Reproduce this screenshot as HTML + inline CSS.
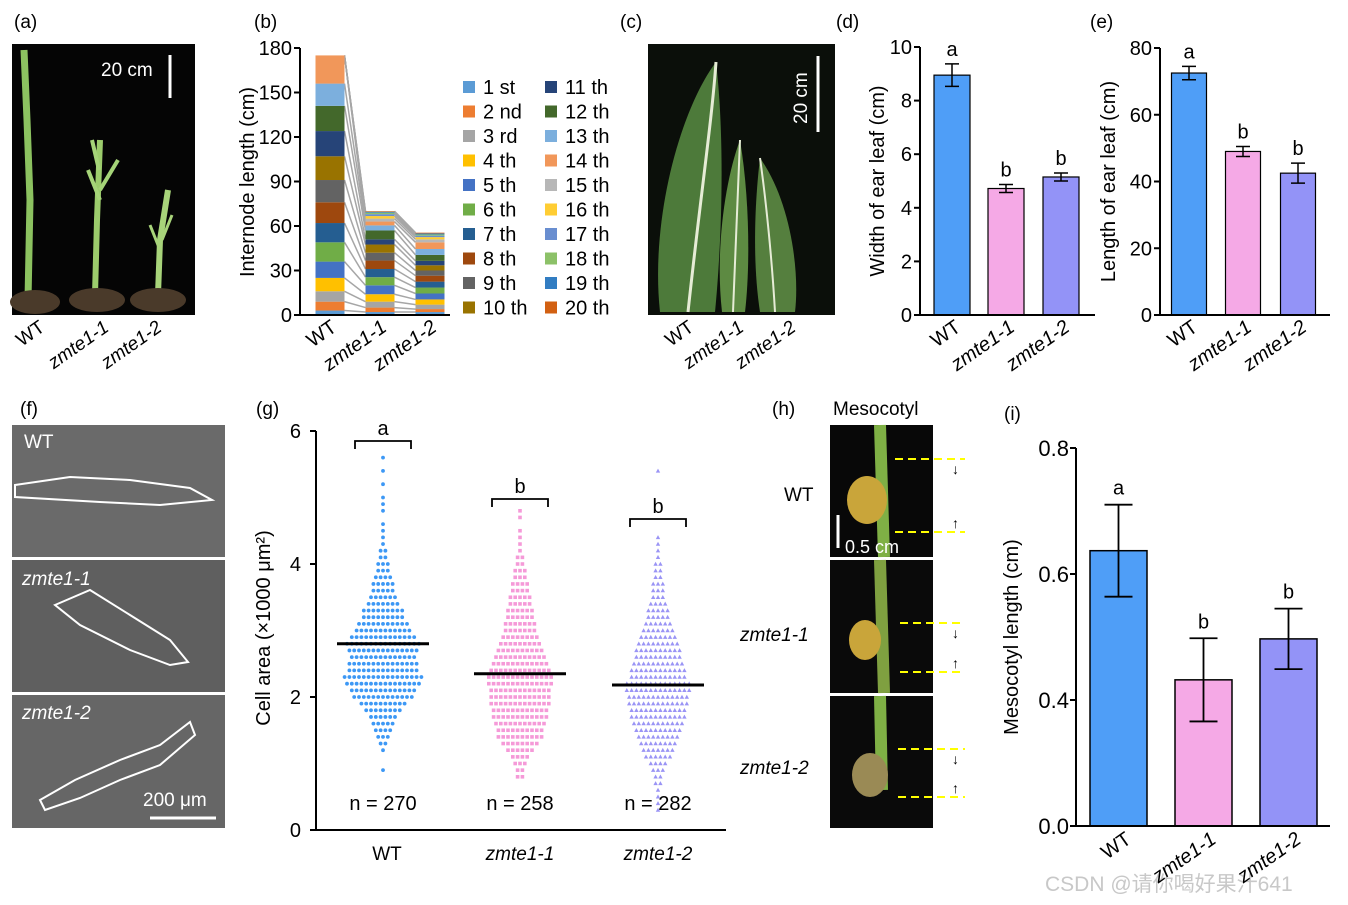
<!DOCTYPE html>
<html><head><meta charset="utf-8"><style>
body{margin:0;background:#fff}
svg{display:block;font-family:"Liberation Sans","Noto Sans CJK SC",sans-serif}
</style></head><body>
<svg id="fig" width="1348" height="905" viewBox="0 0 1348 905" xmlns="http://www.w3.org/2000/svg">
<g font-size="19" fill="#000">
<text x="14" y="28">(a)</text>
<text x="254" y="28">(b)</text>
<text x="620" y="28">(c)</text>
<text x="836" y="28">(d)</text>
<text x="1090" y="28">(e)</text>
<text x="20" y="415">(f)</text>
<text x="256" y="415">(g)</text>
<text x="772" y="415">(h)</text>
<text x="1004" y="420">(i)</text>
</g>
<!-- (a) photo -->
<g>
<rect x="12" y="44" width="183" height="271" fill="#050505"/>
<path d="M28 300 L30 200 L27 120 L24 50" stroke="#8cc260" stroke-width="7" fill="none"/>
<path d="M95 295 L97 220 L100 140" stroke="#9ccc6c" stroke-width="6" fill="none"/>
<path d="M100 200 L88 170 M100 190 L118 160 M99 170 L92 140" stroke="#a5d478" stroke-width="4" fill="none"/>
<path d="M158 295 L160 240 L168 190" stroke="#a8d47a" stroke-width="6" fill="none"/>
<path d="M160 250 L150 225 M162 240 L172 215" stroke="#a8d47a" stroke-width="3" fill="none"/>
<ellipse cx="35" cy="302" rx="25" ry="12" fill="#4a3a2a"/>
<ellipse cx="97" cy="300" rx="28" ry="12" fill="#4a3a2a"/>
<ellipse cx="158" cy="300" rx="28" ry="12" fill="#4a3a2a"/>
<line x1="170" y1="55" x2="170" y2="98" stroke="#fff" stroke-width="3"/>
<text x="101" y="76" fill="#fff" font-size="19">20 cm</text>
</g>
<g font-size="19">
<text transform="translate(46,330) rotate(-35)" text-anchor="end">WT</text>
<text transform="translate(110,330) rotate(-35)" text-anchor="end" font-style="italic">zmte1-1</text>
<text transform="translate(163,330) rotate(-35)" text-anchor="end" font-style="italic">zmte1-2</text>
</g>
<!-- (c) photo -->
<g>
<rect x="648" y="44" width="187" height="271" fill="#0b0f0a"/>
<path d="M660 312 C650 220 680 110 716 62 C725 140 722 240 715 312 Z" fill="#4d7a3a"/>
<path d="M688 312 C700 200 712 120 716 62" stroke="#e6ecd6" stroke-width="3" fill="none"/>
<path d="M722 312 C715 250 725 180 740 140 C750 200 750 270 745 312 Z" fill="#5d8a42"/>
<path d="M733 312 C735 250 738 190 740 140" stroke="#e6ecd6" stroke-width="2" fill="none"/>
<path d="M760 312 C752 260 755 200 760 158 C790 200 800 270 795 312 Z" fill="#557f3e"/>
<path d="M775 312 C772 260 766 200 760 158" stroke="#e6ecd6" stroke-width="2" fill="none"/>
<line x1="818" y1="56" x2="818" y2="132" stroke="#fff" stroke-width="3"/>
<text transform="translate(807,124) rotate(-90)" fill="#fff" font-size="19">20 cm</text>
</g>
<g font-size="19">
<text transform="translate(695,330) rotate(-35)" text-anchor="end">WT</text>
<text transform="translate(745,330) rotate(-35)" text-anchor="end" font-style="italic">zmte1-1</text>
<text transform="translate(797,330) rotate(-35)" text-anchor="end" font-style="italic">zmte1-2</text>
</g>
<!-- (f) photos -->
<g>
<rect x="12" y="425" width="213" height="132" fill="#6a6a6a"/>
<rect x="12" y="560" width="213" height="132" fill="#5f5f5f"/>
<rect x="12" y="695" width="213" height="133" fill="#666"/>
<path d="M15 485 L70 477 L130 480 L190 488 L212 500 L160 505 L100 502 L15 497 Z" fill="none" stroke="#fff" stroke-width="2"/>
<path d="M55 605 L90 590 L130 615 L170 640 L188 662 L170 665 L130 650 L80 625 Z" fill="none" stroke="#fff" stroke-width="2"/>
<path d="M40 800 L75 780 L120 760 L160 745 L190 722 L195 735 L160 765 L120 780 L80 798 L45 810 Z" fill="none" stroke="#fff" stroke-width="2"/>
<text x="24" y="448" fill="#fff" font-size="19">WT</text>
<text x="22" y="585" fill="#fff" font-size="19" font-style="italic">zmte1-1</text>
<text x="22" y="719" fill="#fff" font-size="19" font-style="italic">zmte1-2</text>
<text x="143" y="806" fill="#fff" font-size="19">200 μm</text>
<line x1="150" y1="818" x2="216" y2="818" stroke="#fff" stroke-width="3"/>
</g>
<!-- (h) photos -->
<g>
<text x="833" y="415" font-size="19">Mesocotyl</text>
<rect x="830" y="425" width="103" height="132" fill="#080808"/>
<rect x="830" y="560" width="103" height="133" fill="#0a0a0a"/>
<rect x="830" y="696" width="103" height="132" fill="#0a0a0a"/>
<path d="M880 425 L884 557" stroke="#7fb045" stroke-width="12"/>
<ellipse cx="867" cy="500" rx="20" ry="24" fill="#c9a53a"/>
<path d="M880 560 L884 693" stroke="#7fa040" stroke-width="12"/>
<ellipse cx="865" cy="640" rx="16" ry="20" fill="#c9a53a"/>
<path d="M880 696 L882 790" stroke="#7fb045" stroke-width="12"/>
<ellipse cx="870" cy="775" rx="18" ry="22" fill="#9a8a55"/>
<g stroke="#ffff00" stroke-width="2" stroke-dasharray="8,5">
<line x1="895" y1="459" x2="965" y2="459"/><line x1="895" y1="532" x2="965" y2="532"/>
<line x1="900" y1="623" x2="965" y2="623"/><line x1="900" y1="672" x2="965" y2="672"/>
<line x1="898" y1="749" x2="965" y2="749"/><line x1="898" y1="797" x2="965" y2="797"/>
</g>
<g font-size="14"><text x="952" y="474">↓</text><text x="952" y="528">↑</text><text x="952" y="638">↓</text><text x="952" y="668">↑</text><text x="952" y="764">↓</text><text x="952" y="793">↑</text></g>
<line x1="838" y1="515" x2="838" y2="548" stroke="#fff" stroke-width="3"/>
<text x="845" y="553" fill="#fff" font-size="18">0.5 cm</text>
<text x="784" y="501" font-size="19">WT</text>
<text x="740" y="641" font-size="19" font-style="italic">zmte1-1</text>
<text x="740" y="774" font-size="19" font-style="italic">zmte1-2</text>
</g>
<text x="1045" y="891" font-size="21" fill="#c8c8c8">CSDN @请你喝好果汁641</text>
<g id="charts"></g>
</svg>
<script>
// ---- (b) stacked internodes ----
const bCats = ["WT","zmte1-1","zmte1-2"];
const bWT = [3,6,7,9,11,13,13,14,15,16,17,17,15,19,0,0,0,0,0,0];
const bZ1 = [2,3,4,5,6,5.5,5.5,5.7,5.3,5.5,3.5,6,3.4,2.6,2,1.7,1.3,1,0.6,0.4];
const bZ2 = [2,2,3,3.5,4,4,4,4,3.5,3.5,3,4,4,4.5,2,1.5,1,0.8,0.7,0.5];
const bTicks = [0,30,60,90,120,150,180];
const legendLabels = ["1 st","2 nd","3 rd","4 th","5 th","6 th","7 th","8 th","9 th","10 th","11 th","12 th","13 th","14 th","15 th","16 th","17 th","18 th","19 th","20 th"];
const segColors = ["#5b9bd5","#ed7d31","#a5a5a5","#ffc000","#4472c4","#70ad47","#255e91","#9e480e","#636363","#997300","#264478","#43682b","#7cafdd","#f1975a","#b7b7b7","#ffcd33","#698ed0","#8cc168","#327dc2","#d26012"];
// ---- (d),(e) ----
const dCats = ["WT","zmte1-1","zmte1-2"];
const dVals = [8.95,4.72,5.15];
const dErr = [0.42,0.15,0.15];
const dLetters = ["a","b","b"];
const dTicks = [0,2,4,6,8,10];
const eVals = [72.5,49,42.5];
const eErr = [2,1.5,3];
const eLetters = ["a","b","b"];
const eTicks = [0,20,40,60,80];
// ---- (g) swarm: counts per 0.1 bin ----
const gCats = ["WT","zmte1-1","zmte1-2"];
const gBinStart = [0.9,0.8,0.3];
const gWT = [1,0,0,1,2,3,4,5,6,8,10,13,14,16,17,15,15,14,15,16,14,12,11,9,9,7,6,5,5,4,3,3,2,2,1,1,1,1,0,1,1,1,0,1,0,1,0,1];
const gZ1 = [2,2,3,4,6,8,10,10,11,12,12,13,13,13,14,14,13,12,11,10,9,8,7,7,6,6,5,5,4,4,3,3,2,2,1,1,1,1,0,1,1];
const gZ2 = [1,1,1,1,2,2,3,4,6,7,8,9,10,11,12,12,13,13,14,14,12,12,11,10,10,9,8,7,6,5,5,4,3,3,3,2,2,2,1,1,1,1,0,0,0,0,0,0,0,0,0,1];
const gMedians = [2.8,2.35,2.18];
const gN = ["n = 270","n = 258","n = 282"];
const gLetters = ["a","b","b"];
const gTicks = [0,2,4,6];
// ---- (i) ----
const iVals = [0.637,0.432,0.497];
const iErr = [0.073,0.066,0.048];
const iLetters = ["a","b","b"];
const iTickVals = [0.8,0.6,0.4,0.2];
const iTickLabels = ["0.8","0.6","0.4","0.0"];

const NS="http://www.w3.org/2000/svg";
const root=document.getElementById('charts');
function mk(tag,attrs,parent){const e=document.createElementNS(NS,tag);for(const k in attrs)e.setAttribute(k,attrs[k]);(parent||root).appendChild(e);return e;}
function txt(s,attrs,parent){const e=mk('text',attrs,parent);e.textContent=s;return e;}

// ===== (b) =====
(function(){
 const g=mk('g',{});
 
 
 const y=v=>315-v*(267/180);
 const xc=[330,380,430], bw=29;
 const series=[bWT,bZ1,bZ2];
 const cum=series.map(s=>{let c=0;return s.map(v=>c+=v);});
 for(let i=0;i<2;i++){for(let k=0;k<20;k++){
   const l=mk('line',{x1:xc[i]+bw/2,y1:y(cum[i][k]),x2:xc[i+1]-bw/2,y2:y(cum[i+1][k]),stroke:'#a6a6a6','stroke-width':1.5},g);
   
   
 }}
 series.forEach((s,i)=>{let base=0;s.forEach((v,k)=>{ if(v>0){
   const r=mk('rect',{x:xc[i]-bw/2,y:y(base+v),width:bw,height:y(base)-y(base+v),fill:segColors[k]},g);
   
   }
   base+=v;});});
 const ax=mk('path',{d:'M300 48 V315 H450',stroke:'#000','stroke-width':2,fill:'none'},g);
 
 
 bTicks.forEach(t=>{mk('line',{x1:294,x2:300,y1:y(t),y2:y(t),stroke:'#000','stroke-width':2},g);
   const tl=txt(String(t),{x:292,y:y(t)+7,'text-anchor':'end','font-size':20},g);
   
   });
 const tt=txt('Internode length (cm)',{transform:'translate(254,182) rotate(-90)','text-anchor':'middle','font-size':20},g);
 
 
 bCats.forEach((c,i)=>{const t=txt(c,{transform:`translate(${xc[i]+8},330) rotate(-35)`,'text-anchor':'end','font-size':20,'font-style':i?'italic':'normal'},g);
   
   });
 legendLabels.forEach((lab,k)=>{const col=Math.floor(k/10),row=k%10;
   const lx=463+col*82, ly=81+row*24.5;
   const le=mk('g',{},g);
   
   
   mk('rect',{x:lx,y:ly,width:12,height:12,fill:segColors[k]},le);
   txt(lab,{x:lx+20,y:ly+13,'font-size':20},le);});
})();

// ===== generic bar chart =====
function barChart(name,x0,x1,yTop,yBot,ymax,ticks,vals,errs,letters,xs,bw,title,titleX,cols){
 const g=mk('g',{});
 
 
 const y=v=>yBot-v*(yBot-yTop)/ymax;
 vals.forEach((v,i)=>{
  const r=mk('rect',{x:xs[i]-bw/2,y:y(v),width:bw,height:yBot-y(v),fill:cols[i],stroke:'#000','stroke-width':1.2},g);
  
  
  const eb=mk('path',{d:`M${xs[i]} ${y(v+errs[i])} V${y(v-errs[i])} M${xs[i]-7} ${y(v+errs[i])} H${xs[i]+7} M${xs[i]-7} ${y(v-errs[i])} H${xs[i]+7}`,stroke:'#000','stroke-width':1.5,fill:'none'},g);
  
  
  const lt=txt(letters[i],{x:xs[i],y:y(v+errs[i])-8,'text-anchor':'middle','font-size':20},g);
  
  
  const xl=txt(dCats[i],{transform:`translate(${xs[i]+10},330) rotate(-35)`,'text-anchor':'end','font-size':20,'font-style':i?'italic':'normal'},g);
  
  
 });
 const ax=mk('path',{d:`M${x0} ${yTop} V${yBot} H${x1}`,stroke:'#000','stroke-width':2,fill:'none'},g);
 
 
 ticks.forEach(t=>{mk('line',{x1:x0-6,x2:x0,y1:y(t),y2:y(t),stroke:'#000','stroke-width':2},g);
  const tl=txt(String(t),{x:x0-8,y:y(t)+7,'text-anchor':'end','font-size':20},g);
  
  });
 const tt=txt(title,{transform:`translate(${titleX},${(yTop+yBot)/2}) rotate(-90)`,'text-anchor':'middle','font-size':20},g);
 
 
}
const barCols=['#4f9ef7','#f5a9e6','#9393f7'];
barChart('width-chart',920,1095,47,315,10,dTicks,dVals,dErr,dLetters,[952,1006,1061],36,'Width of ear leaf (cm)',884,barCols);
barChart('length-chart',1160,1330,48,315,80,eTicks,eVals,eErr,eLetters,[1189,1243,1298],35,'Length of ear leaf (cm)',1115,barCols);

// ===== (g) swarm =====
(function(){
 const g=mk('g',{});
 
 
 const y=v=>830-v*(399/6);
 const xc=[383,520,658];
 const cols=['#3d98f5','#f59ad8','#9a94f5'];
 [gWT,gZ1,gZ2].forEach((bins,i)=>{
  bins.forEach((n,b)=>{const v=gBinStart[i]+b*0.1;
   for(let j=0;j<n;j++){const dx=(j-(n-1)/2)*4.8;
    let d;
    if(i===0) d=mk('circle',{cx:xc[i]+dx,cy:y(v),r:1.9,fill:cols[i]},g);
    else if(i===1) d=mk('rect',{x:xc[i]+dx-1.8,y:y(v)-1.8,width:3.6,height:3.6,fill:cols[i]},g);
    else {const cx=xc[i]+dx,cy=y(v);d=mk('path',{d:`M${cx} ${cy-2.3} L${cx+2.2} ${cy+1.7} L${cx-2.2} ${cy+1.7}Z`,fill:cols[i]},g);}
    
    
   }});
  const m=mk('line',{x1:xc[i]-46,x2:xc[i]+46,y1:y(gMedians[i]),y2:y(gMedians[i]),stroke:'#000','stroke-width':3},g);
  
  
  const n=txt(gN[i],{x:xc[i],y:810,'text-anchor':'middle','font-size':20},g);
  
  
  const cl=txt(gCats[i],{x:xc[i]+(i?0:4),y:860,'text-anchor':'middle','font-size':19,'font-style':i?'italic':'normal'},g);
  
  
  const by=[441,499,519][i];
  const br=mk('path',{d:`M${xc[i]-28} ${by+8} V${by} H${xc[i]+28} V${by+8}`,stroke:'#000','stroke-width':1.8,fill:'none'},g);
  
  
  const lt=txt(gLetters[i],{x:xc[i],y:by-6,'text-anchor':'middle','font-size':20},g);
  
  
 });
 const ax=mk('path',{d:'M316 431 V830 H726',stroke:'#000','stroke-width':2,fill:'none'},g);
 
 
 gTicks.forEach(t=>{mk('line',{x1:310,x2:316,y1:y(t),y2:y(t),stroke:'#000','stroke-width':2},g);
  const tl=txt(String(t),{x:301,y:y(t)+7,'text-anchor':'end','font-size':20},g);
  
  });
 const tt=txt('Cell area (×1000 μm²)',{transform:'translate(270,628) rotate(-90)','text-anchor':'middle','font-size':20},g);
 
 
})();

// ===== (i) =====
(function(){
 const g=mk('g',{});
 
 
 const y=v=>826-(v-0.2)*630;
 const xs=[1118.5,1203.5,1288.5], bw=57;
 iVals.forEach((v,i)=>{
  const r=mk('rect',{x:xs[i]-bw/2,y:y(v),width:bw,height:826-y(v),fill:barCols[i],stroke:'#000','stroke-width':1.5},g);
  
  
  const eb=mk('path',{d:`M${xs[i]} ${y(v+iErr[i])} V${y(v-iErr[i])} M${xs[i]-14} ${y(v+iErr[i])} H${xs[i]+14} M${xs[i]-14} ${y(v-iErr[i])} H${xs[i]+14}`,stroke:'#000','stroke-width':1.8,fill:'none'},g);
  
  
  const lt=txt(iLetters[i],{x:xs[i],y:y(v+iErr[i])-10,'text-anchor':'middle','font-size':20},g);
  
  
  const xl=txt(gCats[i],{transform:`translate(${xs[i]+14},842) rotate(-35)`,'text-anchor':'end','font-size':20,'font-style':i?'italic':'normal'},g);
  
  
 });
 const ax=mk('path',{d:'M1076 448 V826 H1330',stroke:'#000','stroke-width':2,fill:'none'},g);
 
 
 iTickVals.forEach((t,k)=>{mk('line',{x1:1070,x2:1076,y1:y(t),y2:y(t),stroke:'#000','stroke-width':2},g);
  const tl=txt(iTickLabels[k],{x:1069,y:y(t)+8,'text-anchor':'end','font-size':22},g);
  
  });
 const tt=txt('Mesocotyl length (cm)',{transform:'translate(1018,637) rotate(-90)','text-anchor':'middle','font-size':20},g);
 
 
})();
</script>
</body></html>
